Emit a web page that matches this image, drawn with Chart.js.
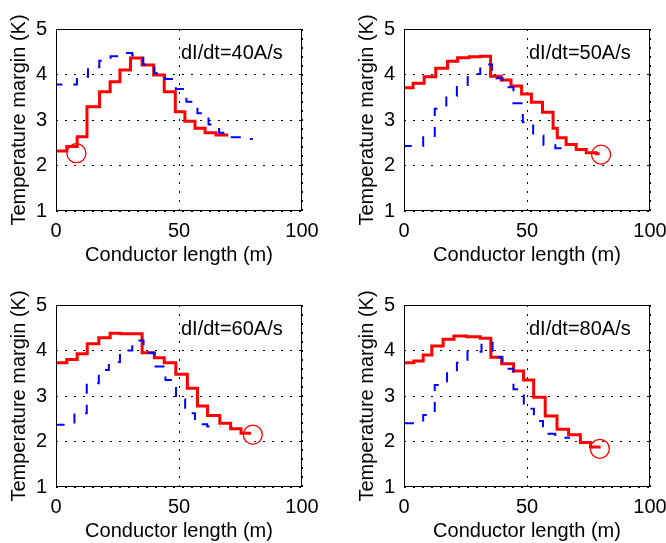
<!DOCTYPE html>
<html>
<head>
<meta charset="utf-8">
<script src="https://cdn.jsdelivr.net/npm/chart.js@4.4.1/dist/chart.umd.min.js"></script>
<style>
  html, body { margin: 0; padding: 0; background: #fff; overflow: hidden; }
  body { width: 666px; height: 543px; position: relative; }
  canvas { position: absolute; }
</style>
</head>
<body>
<canvas id="chart40" width="318" height="268" style="left:0px;top:0px"></canvas>
<canvas id="chart50" width="318" height="268" style="left:348px;top:0px"></canvas>
<canvas id="chart60" width="318" height="268" style="left:0px;top:276px"></canvas>
<canvas id="chart80" width="318" height="268" style="left:348px;top:276px"></canvas>
<script>
// Step start positions (m) and temperature margins (K)
const redLen40 = [0, 4.4, 8.6, 12.6, 17.7, 22.0, 26.0, 30.3, 35.0, 39.7, 44.0, 48.5, 52.4, 56.5, 60.6, 65.0, 70.0];
const redMargin40 = [2.35, 2.32, 2.42, 2.63, 3.29, 3.62, 3.84, 4.10, 4.36, 4.21, 3.99, 3.62, 3.18, 2.97, 2.82, 2.72, 2.67];
const blueLen40 = [0, 8.5, 13.0, 17.6, 22.2, 26.7, 31.0, 35.5, 40.0, 44.4, 48.7, 53.0, 57.5, 62.0, 66.3, 70.8, 75.5, 80.0];
const blueMargin40 = [3.70, 3.78, 3.95, 4.16, 4.30, 4.40, 4.47, 4.42, 4.22, 4.03, 3.90, 3.68, 3.40, 3.15, 2.90, 2.72, 2.62, 2.58];

const redLen50 = [0, 3.7, 8.2, 12.9, 17.7, 21.8, 26.5, 31.0, 35.2, 39.5, 43.5, 47.8, 51.8, 56.3, 60.6, 62.3, 65.9, 70.0, 74.1, 78.2, 79.5];
const redMargin50 = [3.74, 3.71, 3.81, 3.95, 4.14, 4.29, 4.37, 4.39, 4.40, 3.96, 3.88, 3.75, 3.57, 3.39, 3.17, 2.82, 2.61, 2.46, 2.35, 2.28, 2.26];
const blueLen50 = [0, 7.8, 12.5, 17.2, 21.5, 25.9, 31.0, 35.8, 40.0, 44.5, 48.3, 52.5, 56.7, 61.5, 68.0];
const blueMargin50 = [2.38, 2.43, 2.62, 3.25, 3.53, 3.77, 4.01, 4.22, 3.92, 3.72, 3.37, 2.95, 2.66, 2.45, 2.38];

const redLen60 = [0, 4.4, 8.6, 12.7, 17.4, 22.0, 26.3, 30.5, 35.0, 40.0, 44.0, 48.7, 53.4, 57.5, 61.6, 66.6, 71.0, 75.2, 79.3];
const redMargin60 = [3.75, 3.73, 3.80, 3.93, 4.15, 4.28, 4.38, 4.37, 4.37, 3.95, 3.84, 3.73, 3.48, 3.17, 2.78, 2.57, 2.40, 2.28, 2.18];
const blueLen60 = [0, 7.5, 12.5, 17.4, 21.5, 26.0, 31.0, 35.6, 40.0, 44.5, 48.8, 52.5, 56.5, 61.5, 67.0];
const blueMargin60 = [2.40, 2.37, 2.62, 3.28, 3.57, 3.75, 4.00, 4.22, 3.95, 3.65, 3.35, 2.93, 2.62, 2.38, 2.33];

const redLen80 = [0, 4.0, 7.8, 11.3, 15.9, 20.3, 25.5, 31.0, 35.3, 39.7, 44.5, 48.6, 52.7, 57.4, 62.2, 66.9, 71.7, 75.8, 79.9];
const redMargin80 = [3.75, 3.73, 3.77, 3.90, 4.10, 4.25, 4.32, 4.30, 4.27, 3.85, 3.71, 3.55, 3.35, 2.97, 2.56, 2.27, 2.15, 1.98, 1.88];
const blueLen80 = [0, 7.8, 12.5, 17.5, 21.5, 25.8, 31.5, 36.0, 40.0, 44.5, 48.7, 52.8, 56.5, 61.5, 67.5];
const blueMargin80 = [2.40, 2.40, 2.58, 3.24, 3.50, 3.73, 3.97, 4.17, 3.85, 3.60, 3.15, 2.72, 2.45, 2.17, 2.08];

// Circled points (one per panel)
const circleLen = [8.3, 80.1, 80.0, 79.6];
const circleMargin = [2.27, 2.24, 2.15, 1.84];

const rateLabels = ['dI/dt=40A/s', 'dI/dt=50A/s', 'dI/dt=60A/s', 'dI/dt=80A/s'];

const FONT = '"Liberation Sans", Arial, Helvetica, sans-serif';

function toPoints(xs, ys) {
    return xs.map((x, i) => ({ x: x, y: ys[i] }));
}

// Box around the plot area and the dI/dt note
const boxPlugin = {
    id: 'boxAndNote',
    afterDatasetsDraw(chart, args, opts) {
        const ctx = chart.ctx;
        const a = chart.chartArea;
        ctx.save();
        ctx.strokeStyle = '#000';
        ctx.lineWidth = 1;
        ctx.strokeRect(Math.round(a.left) + 0.5, Math.round(a.top) + 0.5,
            Math.round(a.right - a.left) - 1, Math.round(a.bottom - a.top) - 1);
        const xs = chart.scales.x, ys = chart.scales.y;
        ctx.fillStyle = '#000';
        ctx.font = '20px ' + FONT;
        ctx.textAlign = 'left';
        ctx.textBaseline = 'middle';
        ctx.fillText(opts.text, xs.getPixelForValue(50) + 2, ys.getPixelForValue(4.47));
        ctx.restore();
    }
};

function makeChart(id, redX, redY, blueX, blueY, idx) {
    const ctx = document.getElementById(id).getContext('2d');
    new Chart(ctx, {
        type: 'line',
        data: {
            datasets: [
                {
                    data: [{ x: circleLen[idx], y: circleMargin[idx] }],
                    showLine: false,
                    pointRadius: 9.5,
                    pointStyle: 'circle',
                    pointBackgroundColor: 'rgba(0,0,0,0)',
                    pointBorderColor: '#ff0000',
                    pointBorderWidth: 1.3
                },
                {
                    data: toPoints(blueX, blueY),
                    stepped: 'after',
                    borderColor: '#0000ff',
                    borderWidth: 2,
                    borderDash: [10, 11],
                    pointRadius: 0,
                    fill: false
                },
                {
                    data: toPoints(redX, redY),
                    stepped: 'after',
                    borderColor: '#ff0000',
                    borderWidth: 3,
                    borderJoinStyle: 'miter',
                    pointRadius: 0,
                    fill: false
                }
            ]
        },
        options: {
            responsive: false,
            animation: false,
            devicePixelRatio: 1,
            layout: { padding: { top: 29, right: 16, left: 0, bottom: 0 } },
            plugins: {
                legend: { display: false },
                tooltip: { enabled: false },
                boxAndNote: { text: rateLabels[idx] }
            },
            scales: {
                x: {
                    type: 'linear',
                    min: 0,
                    max: 100,
                    afterFit(scale) {
                        scale.height = 57;
                        scale.paddingLeft = 0;
                        scale.paddingRight = 0;
                    },
                    ticks: { stepSize: 50, color: '#000', padding: 8, maxRotation: 0, font: { size: 20, family: FONT } },
                    grid: { color: '#000', lineWidth: 1, drawTicks: false },
                    border: { display: false, dash: [2, 7] },
                    title: { display: true, text: 'Conductor length (m)', color: '#000', padding: { top: 0, bottom: 1 }, font: { size: 20, family: FONT } }
                },
                y: {
                    type: 'linear',
                    min: 1,
                    max: 5,
                    afterFit(scale) {
                        scale.width = 56;
                        scale.paddingTop = 0;
                        scale.paddingBottom = 0;
                    },
                    ticks: { stepSize: 1, color: '#000', padding: 9, font: { size: 20, family: FONT } },
                    grid: { color: '#000', lineWidth: 1, drawTicks: false },
                    border: { display: false, dash: [2, 7] },
                    title: { display: true, text: 'Temperature margin (K)', color: '#000', padding: { top: 7, bottom: 0 }, font: { size: 20, family: FONT } }
                }
            }
        },
        plugins: [boxPlugin]
    });
}

makeChart('chart40', redLen40, redMargin40, blueLen40, blueMargin40, 0);
makeChart('chart50', redLen50, redMargin50, blueLen50, blueMargin50, 1);
makeChart('chart60', redLen60, redMargin60, blueLen60, blueMargin60, 2);
makeChart('chart80', redLen80, redMargin80, blueLen80, blueMargin80, 3);
</script>
</body>
</html>
